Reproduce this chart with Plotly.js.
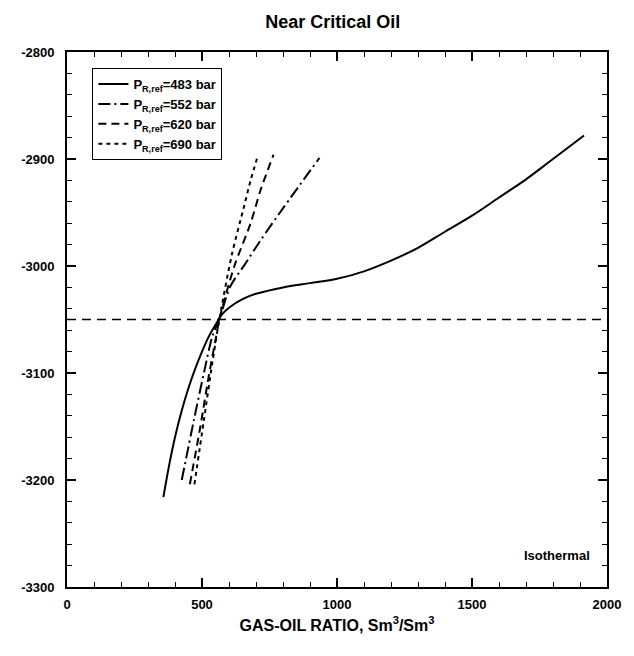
<!DOCTYPE html>
<html>
<head>
<meta charset="utf-8">
<script src="https://cdn.plot.ly/plotly-3.0.1.min.js"></script>
<style>
  html, body { margin: 0; padding: 0; background: #fff; }
  #chart { width: 634px; height: 656px; }
</style>
</head>
<body>
<div id="chart"></div>
<script>
// Gas-oil ratio (Sm3/Sm3) versus depth for four reference pressures
const gor483 = [357, 380, 400, 425, 450, 475, 500, 525, 550, 575, 600, 650, 700, 800, 900, 1000, 1100, 1200, 1300, 1400, 1500, 1600, 1700, 1800, 1915];
const dep483 = [-3216, -3184, -3160, -3135, -3114, -3096, -3080, -3066, -3055, -3045, -3039, -3031, -3026, -3020, -3016, -3012, -3005, -2995, -2983, -2968, -2953, -2936, -2919, -2900, -2878];

const gor552 = [425, 470, 507, 538, 565, 605, 660, 717, 803, 935];
const dep552 = [-3200, -3144, -3100, -3066, -3049, -3019, -2998, -2976, -2945, -2899];

const gor620 = [455, 494, 525, 550, 565, 620, 680, 717, 765];
const dep620 = [-3204, -3150, -3103, -3069, -3049, -3000, -2960, -2929, -2896];

const gor690 = [472, 507, 538, 565, 610, 655, 680, 708];
const dep690 = [-3204, -3144, -3091, -3049, -2990, -2945, -2920, -2896];

// Isothermal reference depth
const isoGor = [0, 2000];
const isoDep = [-3050, -3050];

// Tick positions and labels
const xTicks = [0, 500, 1000, 1500, 2000];
const xTickText = ['0', '500', '1000', '1500', '2000'];
const yTicks = [-3300, -3200, -3100, -3000, -2900, -2800];
const yTickText = ['-3300', '-3200', '-3100', '-3000', '-2900', '-2800'];

const seriesNames = ['P<sub>R,ref</sub>=483 bar', 'P<sub>R,ref</sub>=552 bar',
                     'P<sub>R,ref</sub>=620 bar', 'P<sub>R,ref</sub>=690 bar'];

const FONT = 'Liberation Sans, Arial, Helvetica, sans-serif';
const bold = s => '<b>' + s + '</b>';

const traces = [
  { x: gor483, y: dep483, name: bold(seriesNames[0]), mode: 'lines',
    line: { color: '#000', width: 2, shape: 'spline', smoothing: 1 } },
  { x: gor552, y: dep552, name: bold(seriesNames[1]), mode: 'lines',
    line: { color: '#000', width: 2, dash: '12px,4px,2px,4px', shape: 'spline', smoothing: 0.8 } },
  { x: gor620, y: dep620, name: bold(seriesNames[2]), mode: 'lines',
    line: { color: '#000', width: 2, dash: '8px,5px', shape: 'spline', smoothing: 0.8 } },
  { x: gor690, y: dep690, name: bold(seriesNames[3]), mode: 'lines',
    line: { color: '#000', width: 2, dash: '4px,4px', shape: 'spline', smoothing: 0.8 } },
  { x: isoGor, y: isoDep, mode: 'lines', showlegend: false, hoverinfo: 'skip',
    line: { color: '#000', width: 1.5, dash: '9px,6px' } }
];

const axisCommon = {
  showgrid: false, zeroline: false,
  showline: true, linecolor: '#000', linewidth: 2, mirror: 'ticks',
  ticks: 'inside', ticklen: 9, tickwidth: 1.5, tickcolor: '#000',
  tickfont: { family: FONT, size: 13, color: '#000', weight: 'bold' }
};

const layout = {
  width: 634, height: 656,
  margin: { l: 67, r: 27, t: 52, b: 69 },
  paper_bgcolor: '#fff', plot_bgcolor: '#fff',
  title: { text: bold('Near Critical Oil'), x: 0.525, xanchor: 'center', y: 0.967, yanchor: 'middle',
           font: { family: FONT, size: 18, color: '#000' } },
  xaxis: Object.assign({}, axisCommon, {
    range: [0, 2000], tickvals: xTicks, ticktext: xTickText.map(bold),
    minor: { dtick: 100, ticks: 'inside', ticklen: 5, tickwidth: 1, tickcolor: '#000' },
    ticklabelstandoff: 4,
    title: { text: bold('GAS-OIL RATIO, Sm<sup>3</sup>/Sm<sup>3</sup>'), standoff: 9,
             font: { family: FONT, size: 16, color: '#000' } }
  }),
  yaxis: Object.assign({}, axisCommon, {
    range: [-3300, -2800], tickvals: yTicks, ticktext: yTickText.map(bold),
    minor: { dtick: 20, ticks: 'inside', ticklen: 5, tickwidth: 1, tickcolor: '#000' },
    ticklabelstandoff: 8
  }),
  legend: {
    x: 0.047, xanchor: 'left', y: 0.97, yanchor: 'top',
    bgcolor: '#fff', bordercolor: '#000', borderwidth: 1,
    font: { family: FONT, size: 13, color: '#000' },
    tracegroupgap: 0, itemwidth: 30
  },
  annotations: [
    { x: 1945, y: -3271, xref: 'x', yref: 'y', xanchor: 'right', yanchor: 'middle',
      text: bold('Isothermal'), showarrow: false,
      font: { family: FONT, size: 13, color: '#000' } }
  ],
  showlegend: true
};

Plotly.newPlot('chart', traces, layout, { staticPlot: true, displayModeBar: false });
</script>
</body>
</html>
